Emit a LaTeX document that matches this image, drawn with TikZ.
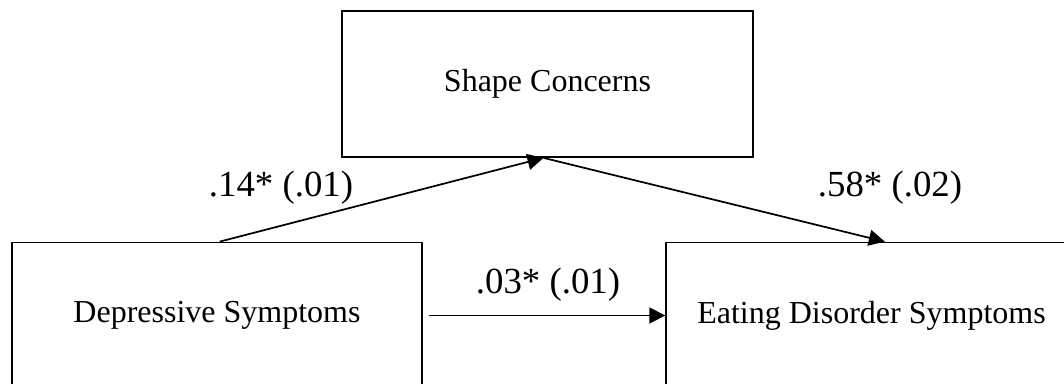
\documentclass[tikz,border=0pt]{standalone}
\usepackage{fontspec}
\setmainfont{Liberation Serif}
\usepackage{tikz}
\usetikzlibrary{arrows.meta,positioning}

\begin{document}
\begin{tikzpicture}[
  x=0.75pt,y=-0.75pt,
  var/.style={draw=black,line width=1.3pt,minimum width=308pt,minimum height=109.5pt,
    font=\fontsize{24}{28}\selectfont,inner sep=0pt},
  path/.style={-{Triangle[length=12pt,width=12pt]},draw=black,line width=1.3pt},
  coef/.style={font=\fontsize{27.6}{32}\selectfont,inner sep=2pt}
]
\useasboundingbox (0,0) rectangle (1064,383);
\clip (0,0) rectangle (1064,383);

\node[var] (shape) at (547.5,84) {Shape Concerns};
\node[var] (dep) at (217,315.5) {Depressive Symptoms};
\node[var] (eds) at (871.5,315.5) {Eating Disorder Symptoms};

\draw[path] ([xshift=2pt]dep.north) -- ([xshift=-3pt]shape.south);
\draw[path] ([xshift=-3pt]shape.south) -- ([xshift=10pt]eds.north);
\draw[path] ([xshift=4pt]dep.east) -- (eds.west);

\node[coef] (a) at (281,188) {.14* (.01)};
\node[coef] (b) at (890,188) {.58* (.02)};
\node[coef] (c) at (548,285) {.03* (.01)};
\end{tikzpicture}
\end{document}
